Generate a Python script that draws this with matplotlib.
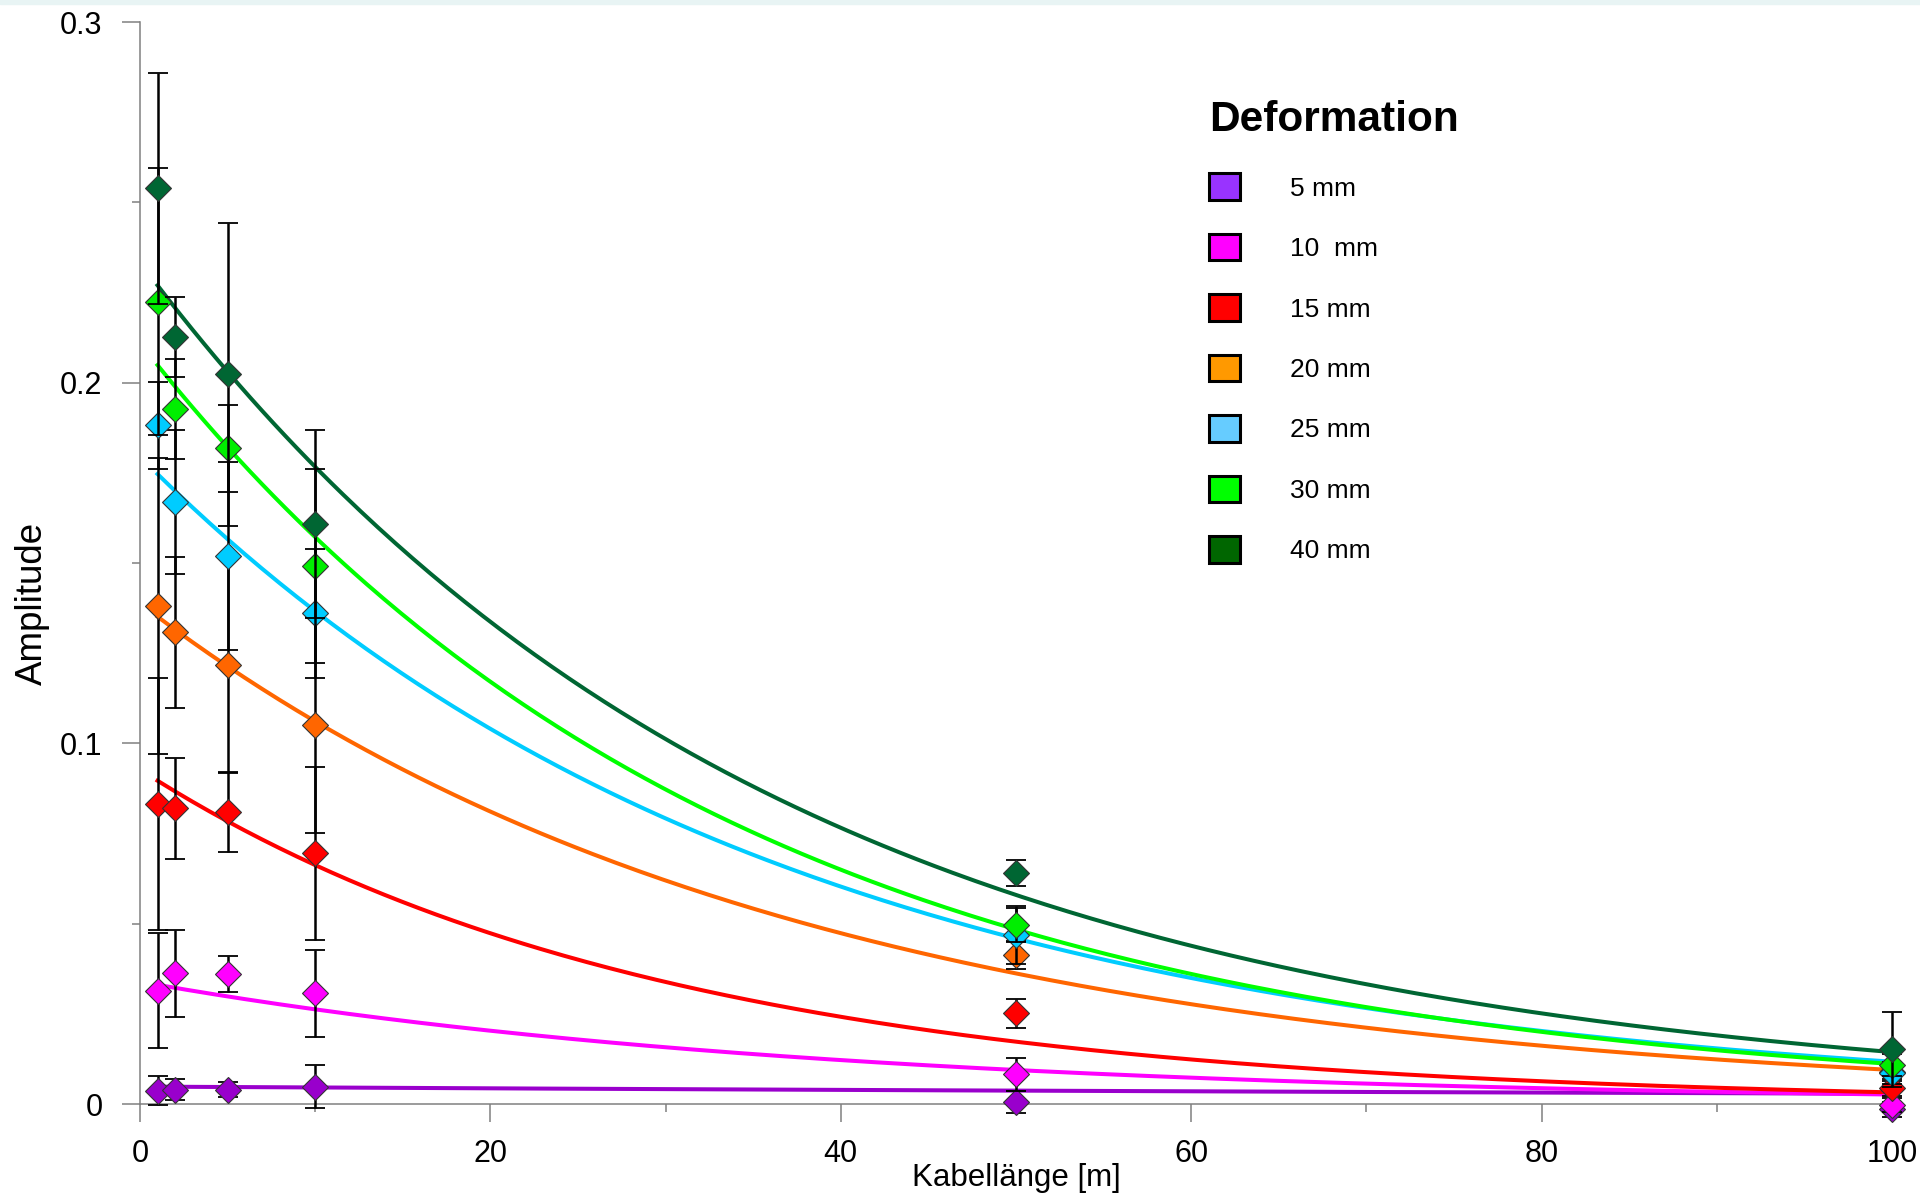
import numpy as np
import matplotlib
matplotlib.use('Agg')
import matplotlib.pyplot as plt
from matplotlib.patches import Patch
from matplotlib.ticker import FixedLocator, FixedFormatter

plt.rcParams['font.family'] = ['Liberation Sans', 'DejaVu Sans']

# cable lengths [m]
cable_length = [1, 2, 5, 10, 50, 100]

labels = ['5 mm', '10  mm', '15 mm', '20 mm', '25 mm', '30 mm', '40 mm']

# measured amplitudes (mean) per deformation
amp_5 = [0.0037, 0.0040, 0.0040, 0.0048, 0.0006, -0.0015]
amp_10 = [0.0314, 0.0362, 0.0360, 0.0307, 0.0082, -0.0003]
amp_15 = [0.0832, 0.0820, 0.0810, 0.0695, 0.0251, 0.0043]
amp_20 = [0.1380, 0.1308, 0.1217, 0.1051, 0.0413, 0.0090]
amp_25 = [0.1882, 0.1670, 0.1519, 0.1360, 0.0469, 0.0086]
amp_30 = [0.2224, 0.1927, 0.1818, 0.1492, 0.0496, 0.0108]
amp_40 = [0.2539, 0.2127, 0.2023, 0.1608, 0.0640, 0.0152]

# error (half width)
err_5 = [0.004, 0.003, 0.002, 0.006, 0.003, 0.002]
err_10 = [0.016, 0.012, 0.005, 0.012, 0.0045, 0.002]
err_15 = [0.035, 0.014, 0.011, 0.024, 0.004, 0.002]
err_20 = [0.041, 0.021, 0.030, 0.030, 0.004, 0.002]
err_25 = [0.012, 0.020, 0.026, 0.018, 0.008, 0.003]
err_30 = [0.037, 0.014, 0.012, 0.027, 0.0047, 0.003]
err_40 = [0.032, 0.011, 0.042, 0.026, 0.0036, 0.0104]

# exponential trend lines  y = a * exp(-k * x)
fit_a = [0.00483, 0.0339, 0.0927, 0.1388, 0.1795, 0.2110, 0.2334]
fit_k = [0.0053, 0.0256, 0.0336, 0.02688, 0.02728, 0.02945, 0.02786]

marker_colors = ['#9900CC', '#FF00FF', '#FF0000', '#FF6600', '#00CCFF', '#00EE00', '#006633']
line_colors = ['#9900CC', '#FF00FF', '#FF0000', '#FF6600', '#00CCFF', '#00FF00', '#006633']
legend_colors = ['#9933FF', '#FF00FF', '#FF0000', '#FF9900', '#66CCFF', '#00FF00', '#006600']

y_ticks = [0, 0.1, 0.2, 0.3]
y_tick_labels = ['0', '0.1', '0.2', '0.3']

amps = [amp_5, amp_10, amp_15, amp_20, amp_25, amp_30, amp_40]
errs = [err_5, err_10, err_15, err_20, err_25, err_30, err_40]

fig = plt.figure(figsize=(19.2, 11.98), dpi=100)
ax = fig.add_axes([140 / 1920, 94 / 1198, 1752 / 1920, 1082 / 1198])

fig.add_artist(plt.Rectangle((0, 1 - 4 / 1198), 1, 4 / 1198, transform=fig.transFigure,
                             color='#e8f4f4', zorder=0))

x_fit = np.linspace(1, 100, 300)
for i in range(len(labels)):
    ax.plot(x_fit, fit_a[i] * np.exp(-fit_k[i] * x_fit), '-', color=line_colors[i], lw=2.9, zorder=2)

for i in range(len(labels)):
    ax.errorbar(cable_length, amps[i], yerr=errs[i], fmt='none', ecolor='black', elinewidth=1.8,
                capsize=7, capthick=1.3, zorder=3 + 2 * i, clip_on=False)
    ax.plot(cable_length, amps[i], 'D', color=marker_colors[i], markersize=13,
            markeredgecolor='#333333', markeredgewidth=0.8, zorder=4 + 2 * i, clip_on=False)

ax.set_xlim(0, 100)
ax.set_ylim(0, 0.3)
ax.xaxis.set_major_locator(FixedLocator([0, 20, 40, 60, 80, 100]))
ax.xaxis.set_minor_locator(FixedLocator([10, 30, 50, 70, 90]))
ax.yaxis.set_major_locator(FixedLocator(y_ticks))
ax.yaxis.set_major_formatter(FixedFormatter(y_tick_labels))
ax.yaxis.set_minor_locator(FixedLocator([0.05, 0.15, 0.25]))

for side in ['top', 'right']:
    ax.spines[side].set_visible(False)
for side in ['left', 'bottom']:
    ax.spines[side].set_color('#808080')
    ax.spines[side].set_linewidth(1.1)

ax.tick_params(which='major', length=13, width=1.1, color='#808080', labelsize=22)
ax.tick_params(which='minor', length=6, width=1.1, color='#808080')
ax.tick_params(axis='y', which='major', pad=14)
ax.tick_params(axis='x', which='major', pad=12)

ax.set_xlabel('Kabellänge [m]', fontsize=22.5, va='center')
ax.xaxis.set_label_coords(0.5, -0.0684)
ax.set_ylabel('Amplitude', fontsize=26.5, va='center')
ax.yaxis.set_label_coords(-0.0616, 0.463)

handles = [Patch(facecolor=c, edgecolor='black', linewidth=2.2) for c in legend_colors]
leg = ax.legend(handles, labels, title='Deformation', loc='upper left',
                bbox_to_anchor=(1196 / 1920, 1 - 87 / 1198), bbox_transform=fig.transFigure,
                frameon=False, borderpad=0, fontsize=19, handlelength=1.17, handleheight=1.17,
                labelspacing=1.26, handletextpad=1.9, alignment='left',
                title_fontproperties={'weight': 'bold', 'size': 30.5})

fig.savefig('out.png', dpi=100)
